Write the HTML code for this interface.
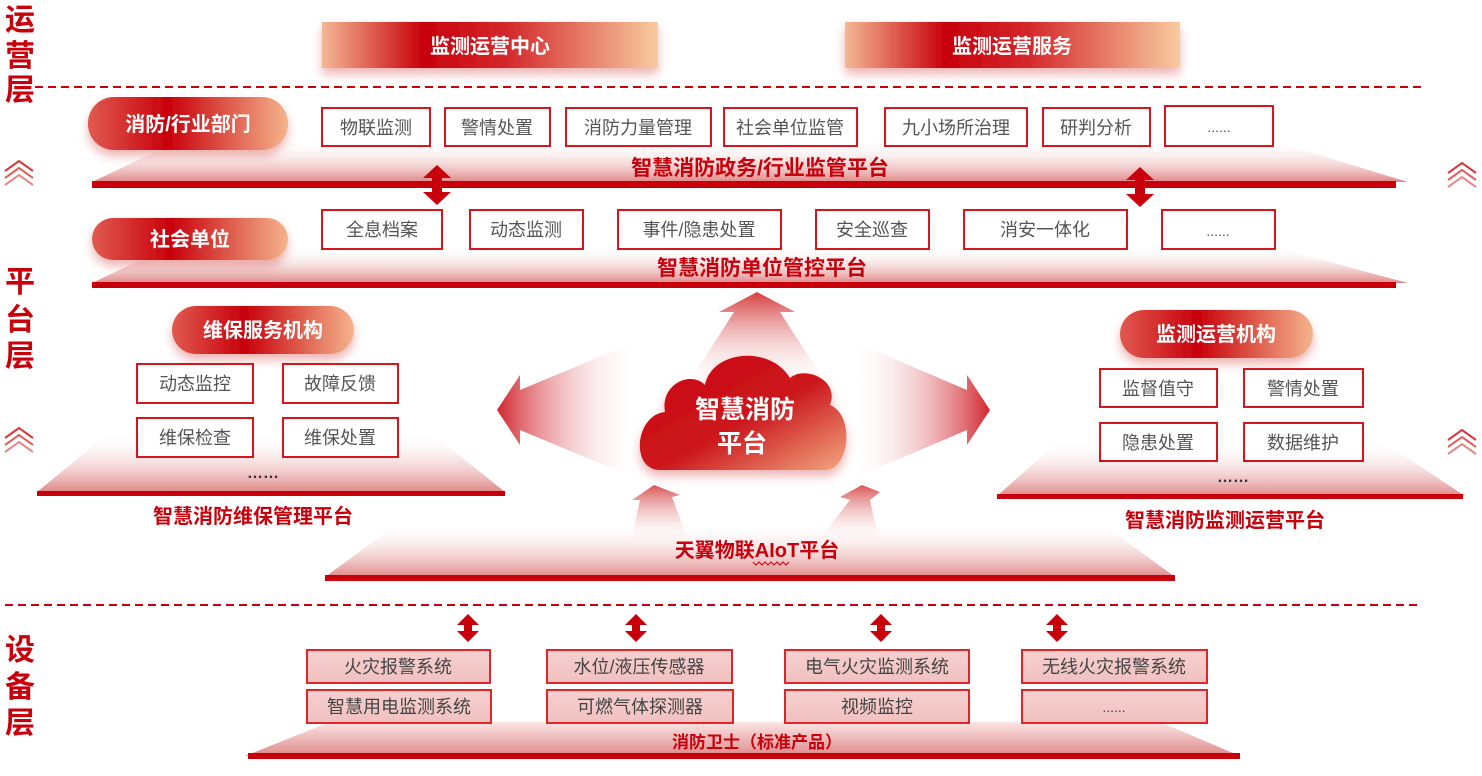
<!DOCTYPE html>
<html><head><meta charset="utf-8"><style>
html,body{margin:0;padding:0;background:#fff;}
svg{display:block;}
text{font-family:"Liberation Sans","Noto Sans CJK SC",sans-serif;}
</style></head><body>
<svg width="1482" height="776" viewBox="0 0 1482 776" xmlns="http://www.w3.org/2000/svg">
<defs>
<linearGradient id="hdr" x1="0" x2="1" y1="0" y2="0">
<stop offset="0" stop-color="#f4b896"/><stop offset="0.3" stop-color="#c8000b"/><stop offset="0.55" stop-color="#d4282c"/><stop offset="1" stop-color="#f8cba0"/></linearGradient>
<linearGradient id="pill" x1="0" x2="1" y1="0" y2="0">
<stop offset="0" stop-color="#e05a50"/><stop offset="0.4" stop-color="#c8000b"/><stop offset="1" stop-color="#f4b48c"/></linearGradient>
<linearGradient id="plat" x1="0" x2="0" y1="0" y2="1">
<stop offset="0" stop-color="#fff" stop-opacity="0"/><stop offset="1" stop-color="#e08888"/></linearGradient>
<linearGradient id="plat2" x1="0" x2="0" y1="0" y2="1">
<stop offset="0" stop-color="#fbe5e5"/><stop offset="1" stop-color="#e08a8a"/></linearGradient>
<linearGradient id="cloud" x1="0" x2="1" y1="0" y2="1">
<stop offset="0" stop-color="#c8000b"/><stop offset="0.55" stop-color="#cc1a1f"/><stop offset="1" stop-color="#f2a880"/></linearGradient>
<linearGradient id="arU" x1="0" x2="0" y1="0" y2="1"><stop offset="0" stop-color="#d02828"/><stop offset="1" stop-color="#fff" stop-opacity="0"/></linearGradient>
<linearGradient id="arL" x1="0" x2="1" y1="0" y2="0"><stop offset="0" stop-color="#c8000b"/><stop offset="1" stop-color="#fff" stop-opacity="0"/></linearGradient>
<linearGradient id="arR" x1="1" x2="0" y1="0" y2="0"><stop offset="0" stop-color="#c8000b"/><stop offset="1" stop-color="#fff" stop-opacity="0"/></linearGradient>
<linearGradient id="dv" x1="0" x2="0" y1="0" y2="1"><stop offset="0" stop-color="#f6d0d0"/><stop offset="1" stop-color="#f0c0c0"/></linearGradient>
<filter id="sh" x="-20%" y="-40%" width="140%" height="200%"><feDropShadow dx="0" dy="6" stdDeviation="5" flood-color="#c8000b" flood-opacity="0.3"/></filter>
<g id="dbl"><path d="M0,-14 L-11,-3 L-4,-3 L-4,3 L-11,3 L0,14 L11,3 L4,3 L4,-3 L11,-3 Z" fill="#c8000b"/></g>
<g id="dblL"><path d="M0,-20 L-14,-7 L-5,-7 L-5,7 L-14,7 L0,20 L14,7 L5,7 L5,-7 L14,-7 Z" fill="#c8000b"/></g>
<g id="chev" fill="none" stroke="#d43a3a" stroke-width="2"><path d="M0,10 L14,0 L28,10"/><path d="M0,17 L14,7 L28,17" stroke-opacity="0.8"/><path d="M0,24 L14,14 L28,24" stroke-opacity="0.6"/></g>
</defs>

<g fill="#c8000b" font-size="30" font-weight="bold">
<text x="5" y="30">运</text><text x="5" y="66">营</text><text x="5" y="100">层</text>
<text x="5" y="292">平</text><text x="5" y="330">台</text><text x="5" y="366">层</text>
<text x="5" y="660">设</text><text x="5" y="697">备</text><text x="5" y="733">层</text>
</g>
<line x1="35" y1="87" x2="1422" y2="87" stroke="#c8000b" stroke-width="2" stroke-dasharray="8,5"/>
<line x1="5" y1="605" x2="1422" y2="605" stroke="#c8000b" stroke-width="2" stroke-dasharray="8,5"/>
<use href="#chev" x="5" y="161"/><use href="#chev" x="5" y="428"/>
<use href="#chev" x="1448" y="163"/><use href="#chev" x="1448" y="430"/>

<rect x="322" y="22" width="336" height="46" fill="url(#hdr)" filter="url(#sh)"/>
<rect x="845" y="22" width="335" height="46" fill="url(#hdr)" filter="url(#sh)"/>
<text x="490" y="53" font-size="20" font-weight="bold" fill="#fff" text-anchor="middle">监测运营中心</text>
<text x="1012" y="53" font-size="20" font-weight="bold" fill="#fff" text-anchor="middle">监测运营服务</text>

<polygon points="92,182 180,140 1270,140 1408,182" fill="url(#plat)"/>
<rect x="92" y="181" width="1304" height="7" fill="#c8000b"/>
<rect x="88" y="97" width="200" height="53" rx="26" fill="url(#pill)" filter="url(#sh)"/>
<text x="188" y="131" font-size="20" font-weight="bold" fill="#fff" text-anchor="middle">消防/行业部门</text>
<g fill="#fff" stroke="#d8141c" stroke-width="2">
<rect x="322" y="108" width="108" height="38"/><rect x="445" y="108" width="105" height="38"/><rect x="566" y="108" width="145" height="38"/><rect x="724" y="108" width="133" height="38"/><rect x="885" y="108" width="142" height="38"/><rect x="1043" y="108" width="107" height="38"/><rect x="1165" y="106" width="108" height="40"/>
</g>
<g font-size="18" fill="#555" text-anchor="middle">
<text x="376" y="134">物联监测</text><text x="497" y="134">警情处置</text><text x="638" y="134">消防力量管理</text><text x="790" y="134">社会单位监管</text><text x="956" y="134">九小场所治理</text><text x="1096" y="134">研判分析</text><text x="1219" y="132" font-size="14">......</text>
</g>
<text x="760" y="175" font-size="21" font-weight="bold" fill="#c8000b" text-anchor="middle">智慧消防政务/行业监管平台</text>
<use href="#dblL" x="437" y="185"/><use href="#dblL" x="1140" y="187"/>

<polygon points="92,283 170,246 1270,246 1408,283" fill="url(#plat)"/>
<rect x="92" y="282" width="1304" height="6" fill="#c8000b"/>
<rect x="92" y="218" width="196" height="42" rx="21" fill="url(#pill)" filter="url(#sh)"/>
<text x="190" y="246" font-size="20" font-weight="bold" fill="#fff" text-anchor="middle">社会单位</text>
<g fill="#fff" stroke="#d8141c" stroke-width="2">
<rect x="322" y="210" width="120" height="39"/><rect x="470" y="210" width="113" height="39"/><rect x="618" y="210" width="163" height="39"/><rect x="816" y="210" width="113" height="39"/><rect x="964" y="210" width="163" height="39"/><rect x="1162" y="210" width="113" height="39"/>
</g>
<g font-size="18" fill="#555" text-anchor="middle">
<text x="382" y="236">全息档案</text><text x="526" y="236">动态监测</text><text x="699" y="236">事件/隐患处置</text><text x="872" y="236">安全巡查</text><text x="1045" y="236">消安一体化</text><text x="1218" y="236" font-size="14">......</text>
</g>
<text x="762" y="275" font-size="21" font-weight="bold" fill="#c8000b" text-anchor="middle">智慧消防单位管控平台</text>

<polygon points="757,292 795,312 780,312 830,390 684,390 734,312 719,312" fill="url(#arU)" opacity="0.9"/>
<polygon points="497,410 520,375 520,390 640,340 640,480 520,430 520,445" fill="url(#arL)" opacity="0.85"/>
<polygon points="990,410 967,375 967,390 850,340 850,480 967,430 967,445" fill="url(#arR)" opacity="0.85"/>
<polygon points="654,485 680,495 672,497 690,545 630,545 640,500 632,500" fill="url(#arU)" opacity="0.8"/>
<polygon points="862,485 880,492 870,500 880,545 815,545 850,500 840,497" fill="url(#arU)" opacity="0.8"/>

<polygon points="37,492 110,432 430,432 505,492" fill="url(#plat)"/>
<rect x="37" y="491" width="468" height="5" fill="#c8000b"/>
<rect x="172" y="306" width="182" height="48" rx="24" fill="url(#pill)" filter="url(#sh)"/>
<text x="263" y="337" font-size="20" font-weight="bold" fill="#fff" text-anchor="middle">维保服务机构</text>
<g fill="#fff" stroke="#d8141c" stroke-width="2">
<rect x="137" y="364" width="116" height="39"/><rect x="283" y="364" width="115" height="39"/><rect x="137" y="418" width="116" height="39"/><rect x="283" y="418" width="115" height="39"/>
</g>
<g font-size="18" fill="#555" text-anchor="middle">
<text x="195" y="390">动态监控</text><text x="340" y="390">故障反馈</text><text x="195" y="444">维保检查</text><text x="340" y="444">维保处置</text>
</g>
<text x="263" y="478" font-size="16" font-weight="bold" fill="#333" text-anchor="middle">……</text>
<text x="253" y="523" font-size="20" font-weight="bold" fill="#c8000b" text-anchor="middle">智慧消防维保管理平台</text>

<polygon points="997,496 1060,440 1380,440 1465,496" fill="url(#plat)"/>
<rect x="997" y="494" width="466" height="5" fill="#c8000b"/>
<rect x="1120" y="310" width="193" height="48" rx="24" fill="url(#pill)" filter="url(#sh)"/>
<text x="1216" y="341" font-size="20" font-weight="bold" fill="#fff" text-anchor="middle">监测运营机构</text>
<g fill="#fff" stroke="#d8141c" stroke-width="2">
<rect x="1100" y="369" width="117" height="38"/><rect x="1244" y="369" width="119" height="38"/><rect x="1100" y="423" width="117" height="38"/><rect x="1244" y="423" width="119" height="38"/>
</g>
<g font-size="18" fill="#555" text-anchor="middle">
<text x="1158" y="395">监督值守</text><text x="1303" y="395">警情处置</text><text x="1158" y="449">隐患处置</text><text x="1303" y="449">数据维护</text>
</g>
<text x="1233" y="482" font-size="16" font-weight="bold" fill="#333" text-anchor="middle">……</text>
<text x="1225" y="527" font-size="20" font-weight="bold" fill="#c8000b" text-anchor="middle">智慧消防监测运营平台</text>

<polygon points="325,577 400,522 1100,522 1175,577" fill="url(#plat)"/>
<rect x="325" y="575" width="850" height="6" fill="#c8000b"/>
<text x="757" y="557" font-size="20" font-weight="bold" fill="#c8000b" text-anchor="middle">天翼物联AIoT平台</text>
<path d="M753,562 l3,3 3,-3 3,3 3,-3 3,3 3,-3 3,3 3,-3 3,3 3,-3 3,3 3,-3" fill="none" stroke="#c8000b" stroke-width="1"/>

<g filter="url(#sh)">
<path d="M660,470 C630,470 635,415 665,412 C660,385 690,370 705,385 C712,350 770,345 790,378 C805,365 840,380 830,405 C855,415 850,470 825,470 Z" fill="url(#cloud)"/>
</g>
<text x="745" y="418" font-size="25" font-weight="bold" fill="#fff" text-anchor="middle">智慧消防</text>
<text x="742" y="452" font-size="25" font-weight="bold" fill="#fff" text-anchor="middle">平台</text>

<polygon points="245,756 330,722 1160,722 1240,756" fill="url(#plat2)"/>
<rect x="248" y="753" width="992" height="6" fill="#c8000b"/>
<use href="#dbl" x="468" y="628"/><use href="#dbl" x="636" y="628"/><use href="#dbl" x="881" y="628"/><use href="#dbl" x="1057" y="628"/>
<g fill="url(#dv)" stroke="#e0242a" stroke-width="2">
<rect x="307" y="650" width="183" height="33"/><rect x="547" y="650" width="185" height="33"/><rect x="785" y="650" width="184" height="33"/><rect x="1022" y="650" width="185" height="33"/>
<rect x="307" y="690" width="184" height="33"/><rect x="547" y="690" width="186" height="33"/><rect x="785" y="690" width="184" height="33"/><rect x="1022" y="690" width="185" height="33"/>
</g>
<g font-size="18" fill="#444" text-anchor="middle">
<text x="398" y="673">火灾报警系统</text><text x="639" y="673">水位/液压传感器</text><text x="877" y="673">电气火灾监测系统</text><text x="1114" y="673">无线火灾报警系统</text>
<text x="399" y="713">智慧用电监测系统</text><text x="640" y="713">可燃气体探测器</text><text x="877" y="713">视频监控</text><text x="1114" y="712" font-size="14">......</text>
</g>
<text x="757" y="748" font-size="17" font-weight="bold" fill="#c8000b" text-anchor="middle">消防卫士（标准产品）</text>
</svg>
</body></html>
